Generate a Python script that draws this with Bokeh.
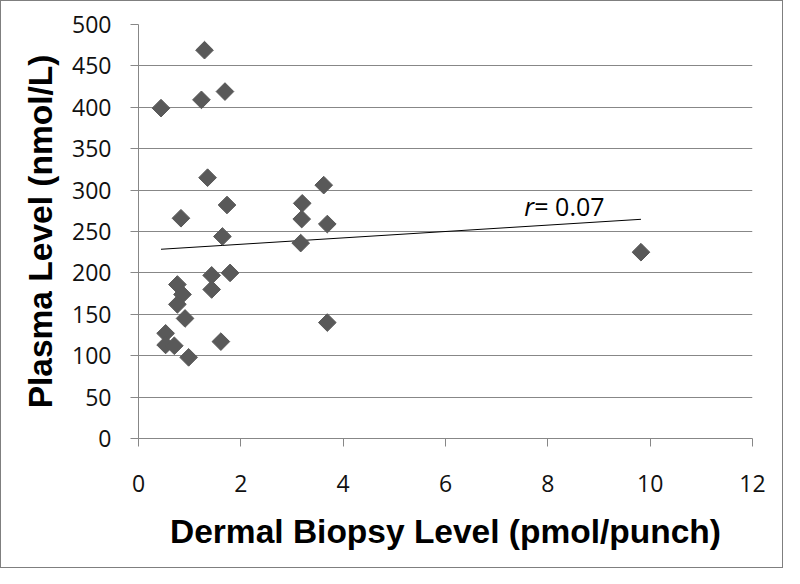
import numpy as np
from bokeh.plotting import figure
from bokeh.layouts import column
from bokeh.models import Range1d, FixedTicker, Label
from bokeh.embed import file_html
from bokeh.resources import INLINE

# Data
dermal = [1.29, 0.44, 1.23, 1.69, 1.35, 1.73, 0.83, 1.64, 1.43, 1.79,
          1.43, 0.76, 0.86, 0.76, 0.91, 0.53, 0.53, 0.70, 0.98, 1.61,
          3.62, 3.20, 3.19, 3.69, 3.17, 3.69, 9.82]
plasma = [469, 399, 409, 419, 315, 282, 266, 244, 197, 200,
          180, 186, 174, 162, 145, 127, 113, 112, 98, 117,
          306, 284, 265, 259, 236, 140, 225]
x_ticks = [0, 2, 4, 6, 8, 10, 12]
y_ticks = [0, 50, 100, 150, 200, 250, 300, 350, 400, 450, 500]
r_label = "= 0.07"

p = figure(width=781, height=566, output_backend="svg", toolbar_location=None,
           x_range=Range1d(0, 12), y_range=Range1d(0, 500),
           min_border_left=137, min_border_right=30,
           min_border_top=23, min_border_bottom=129)
p.outline_line_color = None
p.background_fill_color = "white"
p.border_fill_color = "white"

# trend line (least squares)
slope, intercept = np.polyfit(dermal, plasma, 1)
xs = np.array([min(dermal), max(dermal)])
p.line(xs, slope * xs + intercept, line_color="black", line_width=1)

p.scatter(dermal, plasma, marker="square", angle=np.pi / 4, size=12.5,
          fill_color="#595959", line_color="#595959")

GRAY = "#878787"
for ax in (p.xaxis[0], p.yaxis[0]):
    ax.axis_line_color = GRAY
    ax.major_tick_line_color = GRAY
    ax.major_tick_out = 8
    ax.major_tick_in = 0
    ax.minor_tick_line_color = None
    ax.major_label_text_font = "Open Sans"
    ax.major_label_text_font_size = "23px"
    ax.major_label_text_color = "#111111"
    ax.axis_label_text_font = "Liberation Sans"
    ax.axis_label_text_font_style = "bold"
    ax.axis_label_text_font_size = "33.5px"
    ax.axis_label_text_color = "black"

p.xaxis[0].ticker = FixedTicker(ticks=x_ticks)
p.yaxis[0].ticker = FixedTicker(ticks=y_ticks)
p.xaxis[0].axis_label = "Dermal Biopsy Level (pmol/punch)"
p.yaxis[0].axis_label = "Plasma Level (nmol/L)"
p.xaxis[0].major_label_standoff = 28
p.yaxis[0].major_label_standoff = 19
p.xaxis[0].axis_label_standoff = 18
p.yaxis[0].axis_label_standoff = 10

p.xgrid.grid_line_color = None
p.ygrid.ticker = FixedTicker(ticks=y_ticks)
p.ygrid.grid_line_color = GRAY
p.ygrid.grid_line_width = 1

p.add_layout(Label(x=7.54, y=281, text="r", text_font="Open Sans",
                   text_font_style="italic", text_font_size="25px",
                   text_color="black", text_baseline="alphabetic"))
p.add_layout(Label(x=7.54, y=281, x_offset=10, text=r_label, text_font="Open Sans",
                   text_font_size="25px", text_color="black",
                   text_baseline="alphabetic"))

layout = column(p, styles={"border": "1px solid #7f7f7f"})
open("out.html", "w").write(file_html(layout, INLINE))
